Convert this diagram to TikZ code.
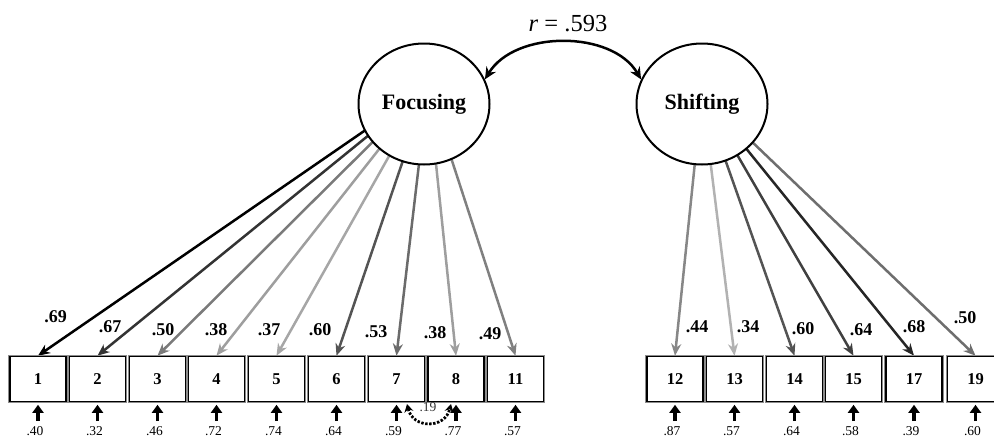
\documentclass[tikz,border=0pt]{standalone}
\usepackage{fontspec}
\setmainfont{Liberation Serif}
\usetikzlibrary{arrows.meta,shapes.geometric,backgrounds}
\begin{document}
\begin{tikzpicture}[x=1pt,y=-1pt,
 lat/.style={ellipse,draw=black,line width=2pt,fill=white,minimum width=131pt,minimum height=121pt,inner sep=0pt,font=\fontsize{22}{24}\selectfont\bfseries},
 obs/.style={rectangle,draw=black,line width=1.6pt,fill=white,minimum width=56pt,minimum height=45pt,inner sep=0pt,font=\fontsize{16.5}{18}\selectfont\bfseries,preaction={draw=black!45,line width=3.4pt}},
 load/.style={line width=2.5pt,-{Stealth[length=12pt,width=10pt]}},
 lbl/.style={font=\fontsize{18}{20}\selectfont\bfseries,inner sep=0pt},
 err/.style={line width=3.8pt,shorten >=2.5pt,-{Triangle[length=8pt,width=11pt]}},
 elbl/.style={font=\fontsize{13.5}{15}\selectfont,inner sep=0pt},
 cov/.style={line width=2.5pt,{Stealth[length=12pt,width=11pt]}-{Stealth[length=12pt,width=11pt]}},
 ecov/.style={line width=2.8pt,dash pattern=on 2.4pt off 1.6pt,{Stealth[length=8pt,width=9pt]}-{Stealth[length=8pt,width=9pt]}}
]
\useasboundingbox (0,0) rectangle (994,437);
\node[lat] (foc) at (424,104) {Focusing};
\node[lat] (shi) at (702,104) {Shifting};
\coordinate (fF) at (428,87);
\coordinate (fS) at (702,94);
% left indicators
\foreach \n/\x/\c/\l/\lx/\ly/\e in {
 1/38/black/.69/55.5/317/.40,
 2/97.5/black!80/.67/110/326.5/.32,
 3/157.5/black!52/.50/163/330/.46,
 4/216.5/black!38/.38/216/330/.72,
 5/276.5/black!35/.37/269/330/.74,
 6/336.5/black!67/.60/320/330/.64,
 7/396.5/black!58/.53/376/332/.59,
 8/456/black!38/.38/435/333/.77,
 11/515.5/black!50/.49/490/334/.57}{
 \node[obs] (b\n) at (\x,379) {\n};
 \begin{pgfonlayer}{background}
 \draw[load,draw=\c] (fF) -- (b\n.north);
 \end{pgfonlayer}
 \node[lbl] (l\n) at (\lx,\ly) {\l};
 \coordinate (e\n) at (\x,421);
 \draw[err] (e\n) -- (b\n.south);
 \node[elbl] (el\n) at (\x-3,431) {\e};
}
% right indicators
\foreach \n/\x/\c/\l/\lx/\ly/\e in {
 12/675/black!47/.44/697/326.5/.87,
 13/734.5/black!30/.34/748/327/.57,
 14/794.5/black!67/.60/803/329/.64,
 15/853.5/black!75/.64/861/330/.58,
 17/914/black!85/.68/914/327/.39,
 19/975.5/black!57/.50/965/317.5/.60}{
 \node[obs] (b\n) at (\x,379) {\n};
 \begin{pgfonlayer}{background}
 \draw[load,draw=\c] (fS) -- (b\n.north);
 \end{pgfonlayer}
 \node[lbl] (l\n) at (\lx,\ly) {\l};
 \coordinate (e\n) at (\x,421);
 \draw[err] (e\n) -- (b\n.south);
 \node[elbl] (el\n) at (\x-3,431) {\e};
}
% factor correlation
\draw[cov] (foc.22) .. controls (515,30) and (612,30) .. (shi.158);
\node[font=\fontsize{24.5}{26}\selectfont,inner sep=0pt] (rl) at (568,24) {\textit{r} = .593};
% error covariance
\coordinate (c7) at (407,404);
\coordinate (c8) at (451,404);
\draw[ecov] (c7) .. controls (413,429) and (445,429) .. (c8);
\node[elbl,text=black!80] (r19) at (428,407) {.19};
\end{tikzpicture}
\end{document}
